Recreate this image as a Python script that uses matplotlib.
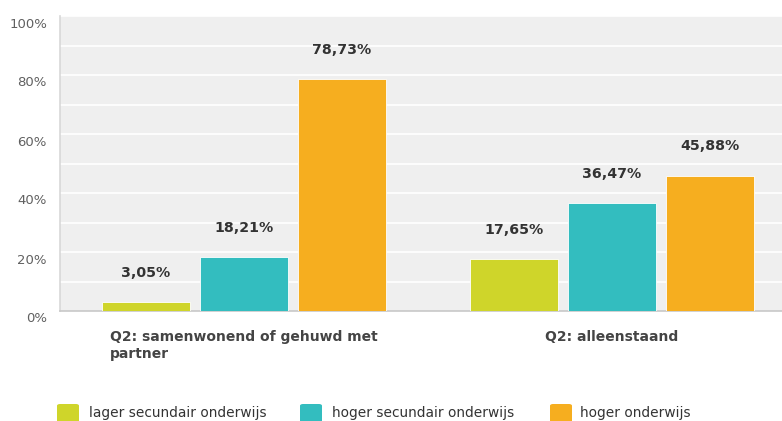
import matplotlib
matplotlib.use("Agg")
import matplotlib.pyplot as plt
from matplotlib.patches import FancyBboxPatch
import matplotlib.transforms as mtransforms
import numpy as np

categories = ["Q2: samenwonend of gehuwd met\npartner", "Q2: alleenstaand"]
series_names = ["lager secundair onderwijs", "hoger secundair onderwijs", "hoger onderwijs"]
values = {
    "lager secundair onderwijs": [3.05, 17.65],
    "hoger secundair onderwijs": [18.21, 36.47],
    "hoger onderwijs": [78.73, 45.88],
}
colors = ["#cfd52a", "#33bdbf", "#f6ae1f"]
yticks = [0, 20, 40, 60, 80, 100]

W, H = 782, 421
fig = plt.figure(figsize=(W / 100, H / 100), dpi=100)
fig.patch.set_facecolor("white")

ax_left, ax_right, ax_top, ax_bot = 60, 796, 16, 311
ax = fig.add_axes([ax_left / W, (H - ax_bot) / H, (ax_right - ax_left) / W, (ax_bot - ax_top) / H])
ax.set_facecolor("#efefef")
ax.set_xlim(-0.5, 1.5)
ax.set_ylim(0, 100)

x = np.arange(len(categories))
width = 0.239
offsets = [-0.266, 0.0, 0.266]
for i, name in enumerate(series_names):
    bars = ax.bar(x + offsets[i], values[name], width, color=colors[i],
                  edgecolor="white", linewidth=0.6, zorder=3)
    for b, v in zip(bars, values[name]):
        ax.annotate(f"{v:.2f}%".replace(".", ","),
                    (b.get_x() + b.get_width() / 2, b.get_height()),
                    xytext=(0, 21), textcoords="offset points",
                    ha="center", va="center", fontsize=10.2,
                    fontweight="bold", color="#333333", family="DejaVu Sans")

# grid
for g in range(10, 101, 10):
    ax.axhline(g, color="white", linewidth=1.2, zorder=1)

for s in ["top", "right"]:
    ax.spines[s].set_visible(False)
ax.spines["left"].set_color("#d8d8d8")
ax.spines["left"].set_linewidth(1.2)
ax.spines["bottom"].set_color("#c8c8c8")
ax.spines["bottom"].set_linewidth(1.2)

ax.set_yticks(yticks)
ax.set_yticklabels([])
ax.tick_params(axis="y", length=0)
ax.set_xticks([])
offset = mtransforms.ScaledTranslation(-13 / 100, -8 / 100, fig.dpi_scale_trans)
for t in yticks:
    ax.text(0, t, f"{t}%", transform=ax.get_yaxis_transform() + offset,
            ha="right", va="center", fontsize=9.5, color="#606060", clip_on=False)

# category labels
for xi, cat in zip(x, categories):
    ax.text(xi, -6.3, cat, transform=ax.transData, ha="center", va="top",
            multialignment="left", fontsize=10.0, fontweight="bold",
            color="#444444", linespacing=1.35, clip_on=False)

# legend (manual, cut off at the bottom like the reference)
sq_x = [57, 300, 550]
tx_x = [89, 332, 580]
for i, name in enumerate(series_names):
    p = FancyBboxPatch((sq_x[i] / W, (H - 426) / H), 22 / W, 22 / H,
                       boxstyle="round,pad=0,rounding_size=0.004",
                       transform=fig.transFigure, facecolor=colors[i],
                       edgecolor="none")
    fig.patches.append(p)
    fig.text(tx_x[i] / W, (H - 413) / H, name, ha="left", va="center",
             fontsize=9.9, color="#333333")

fig.savefig("out.png", dpi=100)
